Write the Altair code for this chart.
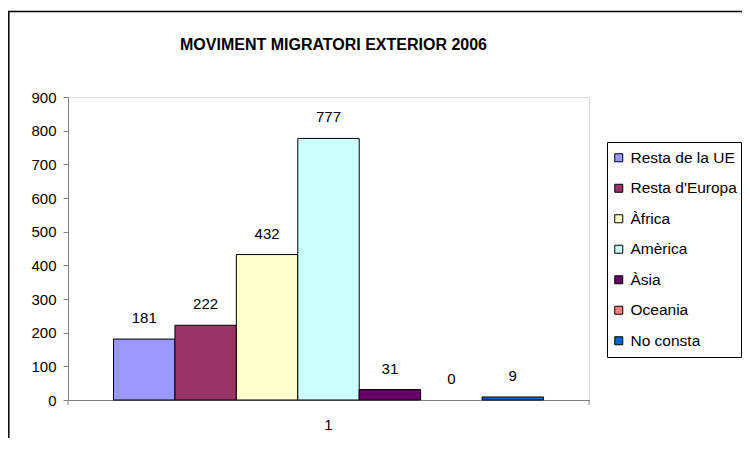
import altair as alt
import pandas as pd

# ---- data ----
categories = ["Resta de la UE", "Resta d'Europa", "Àfrica", "Amèrica", "Àsia", "Oceania", "No consta"]
values = [181, 222, 432, 777, 31, 0, 9]
colors = ["#9999FF", "#993366", "#FFFFCC", "#CCFFFF", "#660066", "#FF8080", "#0066CC"]
group_label = ["1"] * len(categories)
y_ticks = [0, 100, 200, 300, 400, 500, 600, 700, 800, 900]
title_text = "MOVIMENT MIGRATORI EXTERIOR 2006"

df = pd.DataFrame({"grup": group_label, "categoria": categories, "valor": values})
one = pd.DataFrame({"titol": [title_text]})

W, H = 521, 303
FONT = "Liberation Sans"

x_enc = alt.X(
    "grup:N",
    scale=alt.Scale(paddingInner=0, paddingOuter=0.1058),
    axis=alt.Axis(title=None, labelAngle=0, ticks=False, domainColor="#808080",
                  labelPadding=17, labelFontSize=15, labelColor="black", labelFont=FONT),
)
xo_enc = alt.XOffset("categoria:N", sort=categories,
                     scale=alt.Scale(domain=categories, paddingInner=0, paddingOuter=0))
y_enc = alt.Y(
    "valor:Q",
    scale=alt.Scale(domain=[0, 900], nice=False),
    axis=alt.Axis(title=None, values=y_ticks, grid=False, domainColor="#808080",
                  tickColor="#808080", tickSize=5, labelPadding=7, labelFontSize=15,
                  labelColor="black", labelFont=FONT),
)

base = alt.Chart(df)
deco = alt.Chart(one)

bars = base.transform_filter("datum.valor > 0").mark_bar(stroke="black", strokeWidth=1).encode(
    x=x_enc,
    xOffset=xo_enc,
    y=y_enc,
    color=alt.Color(
        "categoria:N",
        sort=categories,
        scale=alt.Scale(domain=categories, range=colors),
        legend=alt.Legend(
            title=None, orient="none", legendX=543, legendY=53,
            symbolType="square", symbolSize=64, symbolStrokeColor="black",
            symbolStrokeWidth=1, labelFontSize=15.5, labelFont=FONT, labelColor="black",
            labelOffset=4, rowPadding=13.5, padding=0, symbolOpacity=1,
        ),
    ),
)

labels = base.mark_text(dy=-21, fontSize=15, font=FONT, color="black", baseline="middle").encode(
    x=x_enc, xOffset=xo_enc, y=y_enc, text="valor:Q"
)

title = deco.mark_text(fontSize=16, fontWeight="bold", font=FONT, color="black",
                       baseline="middle", align="center").encode(
    x=alt.value(W / 2 + 5), y=alt.value(-52), text="titol:N")

# decorative frame pieces (category axis end ticks, legend frame, chart border)
tick_left = deco.mark_rule(color="#808080").encode(
    x=alt.value(0), y=alt.value(H), y2=alt.value(H + 5))
tick_right = deco.mark_rule(color="#808080").encode(
    x=alt.value(W), y=alt.value(H), y2=alt.value(H + 5))
legend_frame = deco.mark_rect(fill=None, stroke="black", strokeWidth=1).encode(
    x=alt.value(539.5), x2=alt.value(673.5), y=alt.value(45.5), y2=alt.value(260.5))
chart_border = deco.mark_rect(fill=None, stroke="black", strokeWidth=1.5).encode(
    x=alt.value(-59.2), x2=alt.value(800), y=alt.value(-85.5), y2=alt.value(500))

chart = alt.layer(chart_border, legend_frame, bars, labels, title, tick_left, tick_right).properties(
    width=W,
    height=H,
    autosize=alt.AutoSizeParams(type="none"),
    padding={"left": 60, "top": 89, "right": 153, "bottom": 38},
).configure_view(stroke=None).configure(font=FONT)

chart.save("out.html", embed_options={"renderer": "svg", "actions": False})
